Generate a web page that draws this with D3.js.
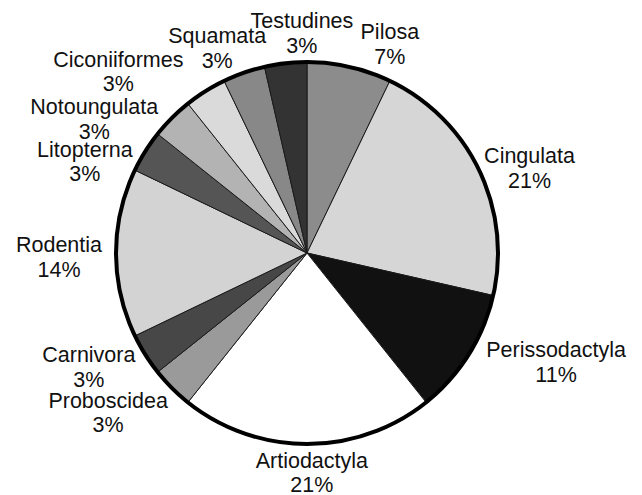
<!DOCTYPE html>
<html>
<head>
<meta charset="utf-8">
<script src="https://cdn.jsdelivr.net/npm/d3@7"></script>
<style>
  body { margin: 0; background: #fff; }
  text { font-family: "Liberation Sans", Arial, sans-serif; font-size: 21.5px; fill: #111; }
</style>
</head>
<body>
<svg width="642" height="495"></svg>
<script>
// data, clockwise from 12 o'clock
var orders = ["Pilosa", "Cingulata", "Perissodactyla", "Artiodactyla", "Proboscidea", "Carnivora",
              "Rodentia", "Litopterna", "Notoungulata", "Ciconiiformes", "Squamata", "Testudines"];
var counts = [2, 6, 3, 6, 1, 1, 4, 1, 1, 1, 1, 1];
var pctLabels = ["7%", "21%", "11%", "21%", "3%", "3%", "14%", "3%", "3%", "3%", "3%", "3%"];

// greys for each slice
var fills = ["#8c8c8c", "#d6d6d6", "#111111", "#ffffff", "#9a9a9a", "#474747",
             "#d3d3d3", "#555555", "#b3b3b3", "#dadada", "#888888", "#333333"];

// where each label sits: [angle deg clockwise from top, distance from centre]
var labelPolar = [[21.2, 229], [68, 240], [112.7, 270], [178.7, 215], [232.1, 252], [243.4, 244],
                  [270.2, 248], [293.4, 242], [303.1, 254], [314.6, 265], [336.8, 228], [358.7, 225]];

var svg = d3.select("svg"),
    cx = 307, cy = 253, R = 191;

var color = d3.scaleOrdinal().domain(orders).range(fills);

var pie = d3.pie().sort(null).value(function (d) { return d.n; });
var arc = d3.arc().innerRadius(0).outerRadius(R);

var rows = orders.map(function (o, i) {
    return { name: o, n: counts[i], pct: pctLabels[i], pos: labelPolar[i] };
});

var g = svg.append("g").attr("transform", "translate(" + cx + "," + cy + ")");

g.selectAll("path.slice")
    .data(pie(rows))
    .enter().append("path")
    .attr("class", "slice")
    .attr("d", arc)
    .attr("fill", function (d) { return color(d.data.name); })
    .attr("stroke", "#1a1a1a")
    .attr("stroke-width", 1);

// thick outer rim
g.append("circle")
    .attr("r", R)
    .attr("fill", "none")
    .attr("stroke", "#000")
    .attr("stroke-width", 4);

var lab = g.selectAll("text.lab")
    .data(rows)
    .enter().append("text")
    .attr("class", "lab")
    .attr("text-anchor", "middle")
    .attr("transform", function (d) {
        var a = d.pos[0] * Math.PI / 180;
        return "translate(" + (Math.sin(a) * d.pos[1]) + "," + (-Math.cos(a) * d.pos[1]) + ")";
    });

lab.append("tspan").attr("x", 0).attr("y", 0).text(function (d) { return d.name; });
lab.append("tspan").attr("x", 0).attr("y", 24.5).text(function (d) { return d.pct; });
</script>
</body>
</html>
